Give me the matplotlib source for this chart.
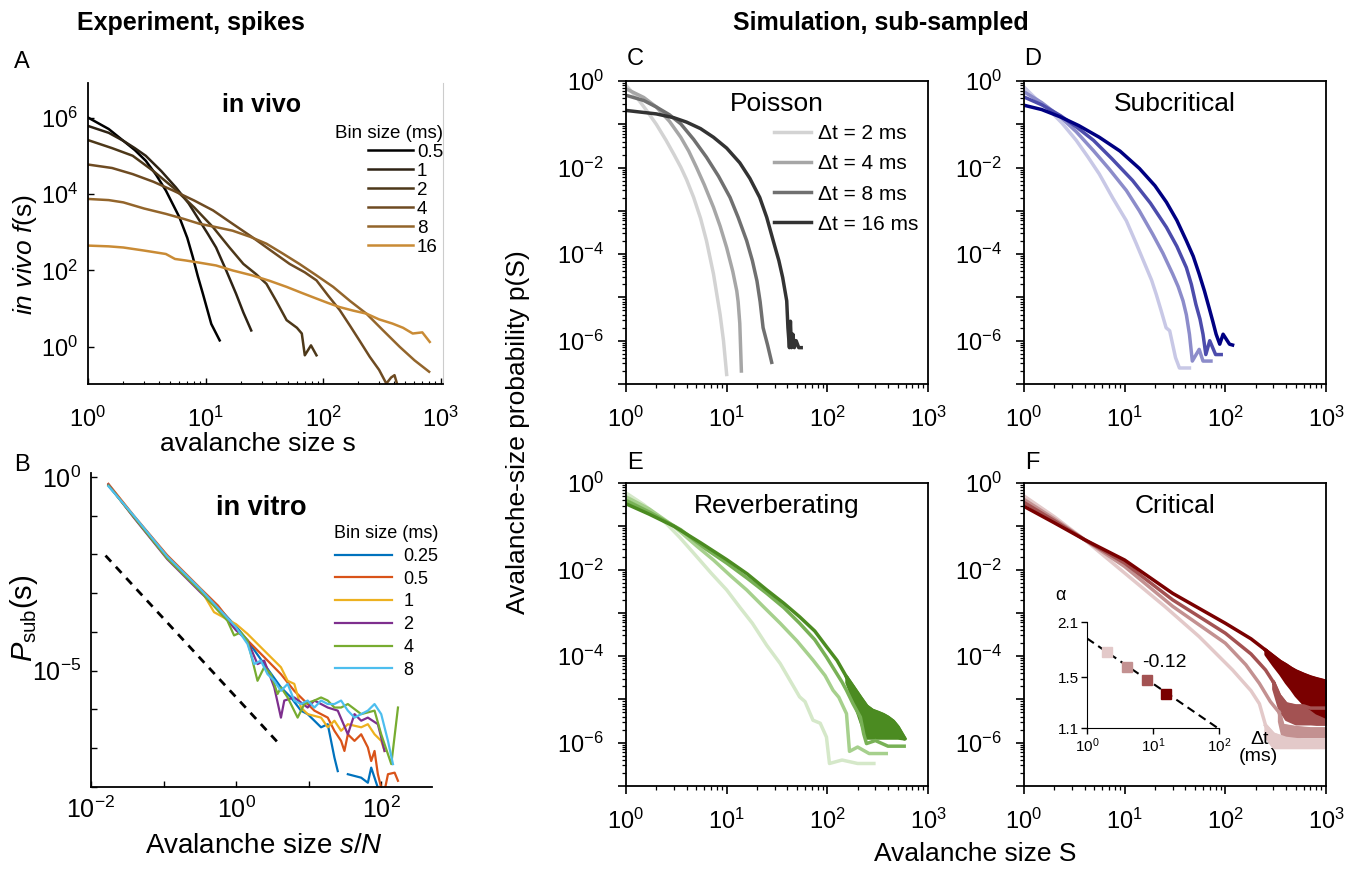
import numpy as np
import matplotlib
matplotlib.use("Agg")
import matplotlib.pyplot as plt
from matplotlib.ticker import LogLocator, NullLocator, NullFormatter

plt.rcParams['font.family'] = ['Liberation Sans', 'DejaVu Sans']
plt.rcParams['mathtext.fontset'] = 'custom'
plt.rcParams['mathtext.rm'] = 'Liberation Sans'
plt.rcParams['mathtext.it'] = 'Liberation Sans:italic'
plt.rcParams['mathtext.bf'] = 'Liberation Sans:bold'

# ---------------- panel A: in vivo, f(s) (log10 values) ----------------
a_bins = ['0.5', '1', '2', '4', '8', '16']
a_colors = ['#000000', '#2e2314', '#4d3819', '#6e4b22', '#93652b', '#c98b35']
a_s_05 = [1, 1.5, 2, 2.5, 3.1, 3.8, 4.6, 6, 7, 7.8, 8.6, 9.5, 11.2, 13.2]
a_logf_05 = [6.0, 5.7, 5.39, 5.15, 4.87, 4.5, 4.09, 3.39, 2.85, 2.35, 1.85, 1.39, 0.6, 0.17]
a_s_1 = [1, 1.5, 2, 2.5, 3.1, 4.2, 5.6, 7.2, 8.9, 10.5, 12.3, 15, 18.2, 21, 24.5]
a_logf_1 = [5.78, 5.6, 5.39, 5.2, 5.0, 4.6, 4.17, 3.75, 3.3, 2.95, 2.6, 2.0, 1.39, 0.9, 0.43]
a_s_2 = [1, 1.6, 2.4, 3.6, 5.3, 8, 11.6, 16, 21, 27, 33, 40, 49, 60, 66, 70, 79, 88]
a_logf_2 = [5.41, 5.2, 5.0, 4.6, 4.17, 3.65, 3.13, 2.6, 2.17, 1.9, 1.65, 1.2, 0.7, 0.5, 0.35,
            -0.22, 0.04, -0.22]
a_s_4 = [1, 1.6, 2.4, 3.6, 5.3, 8, 11.6, 17, 25, 36, 52, 70, 88, 110, 139, 170, 204, 250, 300,
         346, 380, 406, 430]
a_logf_4 = [4.77, 4.68, 4.52, 4.32, 4.09, 3.83, 3.57, 3.22, 2.87, 2.52, 2.17, 1.95, 1.74, 1.35,
            0.96, 0.55, 0.17, -0.26, -0.6, -0.96, -0.8, -0.74, -1.0]
a_s_8 = [1, 1.5, 2, 3, 4.6, 6.5, 8.9, 12, 17, 24, 33, 45, 63, 88, 122, 170, 234, 320, 450, 600, 800]
a_logf_8 = [3.87, 3.84, 3.78, 3.62, 3.48, 3.35, 3.22, 3.14, 3.04, 2.88, 2.7, 2.45, 2.17, 1.87,
            1.57, 1.2, 0.87, 0.45, 0.0, -0.35, -0.65]
a_s_16 = [1, 1.5, 2, 3, 4.6, 5.5, 6.8, 9, 12.3, 17, 25, 35, 49, 65, 82, 110, 139, 180, 234, 300,
          390, 480, 580, 700, 810]
a_logf_16 = [2.65, 2.63, 2.6, 2.52, 2.43, 2.3, 2.26, 2.2, 2.13, 2.0, 1.87, 1.73, 1.57, 1.42, 1.3,
             1.15, 1.04, 0.95, 0.87, 0.72, 0.61, 0.5, 0.35, 0.38, 0.13]

# ---------------- panel B: in vitro, log10(s/N) and log10 P_sub ----------------
b_bins = ['0.25', '0.5', '1', '2', '4', '8']
b_colors = ['#0072BD', '#D95319', '#EDB120', '#7E2F8E', '#77AC30', '#4DBEEE']
b_lx_025 = [-1.76, -1.41, -0.95, -0.49, -0.25, 0.0, 0.157, 0.387, 0.618, 0.756, 0.894, 0.986,
            1.079, 1.171, 1.263, 1.355, 1.401, np.nan, 1.540, 1.724, 1.816, 1.862, 1.954]
b_ly_025 = [-0.22, -1.02, -2.05, -2.92, -3.36, -3.86, -4.22, -4.83, -5.43, -5.69, -6.03, -6.12,
            -6.29, -6.46, -6.38, -7.24, -7.59, np.nan, -7.67, -7.76, -7.89, -7.50, -8.02]
b_lx_05 = [-1.76, -1.41, -0.95, -0.49, -0.25, 0.0, 0.387, 0.618, 0.802, 0.894, 1.079, 1.263, 1.355,
           1.447, 1.493, 1.540, 1.632, 1.724, 1.816, 1.862, 1.908, 1.954, 2.000, 2.046, 2.093, 2.185, 2.231]
b_ly_05 = [-0.18, -1.0, -2.02, -2.88, -3.32, -3.92, -4.65, -5.09, -5.52, -5.69, -6.03, -6.21, -6.55,
           -6.81, -7.07, -6.64, -6.81, -6.64, -6.98, -7.33, -7.07, -7.67, -8.02, -8.1, -7.67, -7.63, -7.84]
b_lx_1 = [-1.76, -1.41, -0.95, -0.49, -0.304, 0.0, 0.157, 0.387, 0.618, 0.710, 0.802, 0.894, 0.986,
          1.171, 1.263, 1.355, 1.447, 1.540, 1.724, 1.816, 1.908, 2.000, 2.046]
b_ly_1 = [-0.2, -1.04, -2.1, -2.9, -3.49, -3.80, -4.05, -4.48, -4.91, -5.26, -5.34, -5.95, -6.12,
          -6.21, -6.46, -6.29, -6.55, -6.38, -6.46, -6.38, -6.64, -6.81, -7.07]
b_lx_2 = [-1.76, -1.41, -0.95, -0.49, -0.25, 0.0, 0.157, 0.295, 0.387, 0.526, 0.618, 0.664, 0.802,
          0.986, 1.079, 1.263, 1.401, 1.540, 1.632, 1.724, 1.816, 1.954, 2.046]
b_ly_2 = [-0.2, -1.05, -2.12, -2.98, -3.40, -3.96, -4.22, -4.83, -4.74, -5.43, -6.21, -5.77, -5.69,
          -5.95, -5.77, -5.95, -6.03, -6.64, -6.12, -6.29, -6.21, -6.38, -7.07]
b_lx_4 = [-1.76, -1.41, -0.95, -0.49, -0.25, -0.12, -0.028, 0.065, 0.157, 0.295, 0.387, 0.479, 0.572,
          0.618, 0.710, 0.848, 0.940, 1.079, 1.171, 1.263, 1.355, 1.447, 1.540, 1.724, 1.908, 2.000,
          2.139, 2.231]
b_ly_4 = [-0.22, -1.03, -2.1, -2.95, -3.45, -3.71, -4.09, -4.01, -4.22, -5.26, -4.91, -5.09, -5.60,
          -5.43, -5.69, -6.21, -5.86, -5.77, -5.69, -5.77, -5.95, -5.95, -5.86, -6.12, -6.03, -6.64,
          -7.41, -5.95]
b_lx_8 = [-1.76, -1.41, -0.95, -0.49, -0.25, 0.0, 0.157, 0.249, 0.341, 0.433, 0.526, 0.618, 0.710,
          0.802, 0.894, 0.986, 1.079, 1.171, 1.263, 1.355, 1.447, 1.540, 1.632, 1.724, 1.816, 1.908,
          2.000, 2.093, 2.162]
b_ly_8 = [-0.24, -1.0, -2.05, -2.9, -3.38, -3.88, -4.31, -4.83, -4.74, -5.09, -5.26, -5.52, -5.34,
          -5.77, -5.86, -5.77, -5.95, -5.77, -5.86, -5.86, -5.77, -6.03, -6.21, -6.12, -6.03, -5.86,
          -6.12, -6.81, -7.41]
b_guide_lx = [-1.80, 0.594]
b_guide_ly = [-2.03, -6.89]

# ---------------- panels C-F: simulation, log10 p(S) ----------------
dt_labels = ['Δt = 2 ms', 'Δt = 4 ms', 'Δt = 8 ms', 'Δt = 16 ms']
c_colors = ['#d3d3d3', '#a6a6a6', '#707070', '#333333']
c_S = [[1, 1.3, 1.6, 2, 2.5, 3, 3.5, 4, 4.7, 5.5, 6.3, 7.4, 8.6, 9.3, 10],
       [1, 1.5, 2, 2.7, 3.5, 4.2, 5, 6, 7.4, 8.6, 10, 11.5, 12.6, 13, 13.5, 14],
       [1, 1.5, 2, 2.7, 3.5, 4.7, 6.3, 8.3, 10.8, 13, 15.8, 18, 20, 21.5, 23, 25.5, 28],
       [1, 2, 3, 4, 5.5, 7.4, 10, 13.5, 17, 21.3, 25, 29, 33, 36, 39.5, 40.6, 42, 43, 44, 45.5,
        47, 49, 52, 55]]
c_lp = [[-0.1, -0.4, -0.68, -1.0, -1.37, -1.7, -1.99, -2.28, -2.69, -3.17, -3.69, -4.46, -5.39,
         -6.0, -6.78],
        [-0.18, -0.38, -0.6, -0.93, -1.3, -1.62, -1.99, -2.4, -2.92, -3.35, -3.85, -4.4, -4.85,
         -5.1, -5.6, -6.7],
        [-0.33, -0.45, -0.6, -0.78, -0.99, -1.35, -1.76, -2.2, -2.69, -3.15, -3.69, -4.15, -4.62,
         -5.1, -5.7, -6.1, -6.5],
        [-0.68, -0.76, -0.85, -0.95, -1.1, -1.3, -1.55, -1.89, -2.25, -2.69, -3.15, -3.69, -4.15,
         -4.54, -5.08, -5.7, -6.16, -5.55, -6.16, -5.85, -6.16, -6.0, -6.16, -6.16]]

d_colors = ['#c8c8e6', '#8c8cca', '#4c4cac', '#000082']
d_S = [[1, 1.3, 1.8, 2.4, 3.3, 4.3, 5.6, 7.6, 10.4, 13, 16.4, 18.5, 20.6, 23, 25.8, 28, 32, 35, 44],
       [1, 1.5, 2.3, 3.3, 4.9, 7, 10.4, 14, 19, 24, 30, 34, 38, 41, 44, 47, 55, 60, 72],
       [1, 1.5, 2.3, 3.4, 4.9, 7.5, 12, 18, 26, 33, 41, 46, 51, 56, 60, 64, 70, 80, 91],
       [1, 1.5, 2.3, 3.5, 5.6, 9, 14, 20, 26, 33, 41, 48, 55, 62, 69, 75, 81, 88, 95, 110, 118]]
d_lp = [[-0.14, -0.4, -0.68, -0.98, -1.37, -1.75, -2.15, -2.7, -3.23, -3.75, -4.31, -4.6, -4.93,
         -5.3, -5.7, -5.77, -6.39, -6.63, -6.63],
        [-0.25, -0.5, -0.83, -1.17, -1.61, -2.03, -2.53, -3.0, -3.54, -3.98, -4.46, -4.75, -5.08,
         -5.4, -5.85, -6.47, -6.2, -6.47, -6.47],
        [-0.37, -0.55, -0.8, -1.08, -1.37, -1.8, -2.3, -2.82, -3.38, -3.82, -4.31, -4.7, -5.16,
         -5.5, -5.85, -6.32, -6.0, -6.32, -6.32],
        [-0.56, -0.66, -0.83, -1.03, -1.3, -1.62, -2.02, -2.42, -2.8, -3.22, -3.69, -4.05, -4.46,
         -4.85, -5.24, -5.55, -5.85, -6.08, -5.85, -6.08, -6.1]]

e_colors = ['#d5e8c9', '#a6d08d', '#78b156', '#4b8b21']
e_S = [[1, 1.5, 2.5, 3.4, 4.7, 7, 10, 13.5, 18, 25, 34, 53, 60, 72, 85, 98, 105, 140, 200, 290],
       [1, 1.7, 3, 5, 7.4, 11, 15.8, 23, 34, 50, 72, 95, 114, 130, 155, 166, 200, 260, 385],
       [1, 1.8, 3.5, 6, 10, 16, 25, 37, 53, 75, 98, 140, 155, 180, 213, 230, 245, 300, 400, 580],
       [1, 1.7, 3, 5.5, 10, 16, 25, 37, 53, 75, 98, 125, 155]]
e_lp = [[-0.23, -0.5, -0.93, -1.25, -1.62, -2.08, -2.47, -2.87, -3.24, -3.75, -4.17, -4.94, -5.05,
         -5.48, -5.55, -5.87, -6.48, -6.4, -6.48, -6.48],
        [-0.32, -0.6, -1.0, -1.45, -1.78, -2.15, -2.47, -2.85, -3.24, -3.65, -4.09, -4.45, -4.79,
         -4.95, -5.33, -6.2, -6.1, -6.25, -6.25],
        [-0.4, -0.7, -1.08, -1.5, -1.85, -2.2, -2.55, -2.88, -3.24, -3.62, -4.02, -4.6, -4.79,
         -5.1, -5.41, -5.8, -6.02, -5.95, -6.08, -6.08],
        [-0.48, -0.72, -1.0, -1.38, -1.77, -2.1, -2.47, -2.78, -3.09, -3.42, -3.78, -4.1, -4.48]]
# noisy tail of the darkest E curve: upper / lower edge
e_band_S = [155, 180, 213, 245, 280, 320, 360, 400, 450, 500, 585]
e_band_hi = [-4.48, -4.7, -4.95, -5.15, -5.25, -5.3, -5.35, -5.41, -5.5, -5.63, -5.9]
e_band_lo = [-4.6, -5.0, -5.5, -5.88, -5.88, -5.88, -5.88, -5.88, -5.88, -5.88, -5.9]

f_colors = ['#e3c9c9', '#c39191', '#a35252', '#7a0000']
f_S = [[1, 2, 4, 10, 25, 55, 118, 180, 218, 251],
       [1, 2, 4, 10, 30, 100, 160, 218, 280, 342],
       [1, 2, 4, 10, 30, 100, 180, 251, 300],
       [1, 2, 4, 10, 30, 100, 180, 251]]
f_lp = [[-0.3, -0.78, -1.31, -2.08, -2.85, -3.55, -4.32, -4.8, -5.1, -5.6],
        [-0.38, -0.83, -1.31, -1.93, -2.85, -3.7, -4.2, -4.63, -5.05, -5.3],
        [-0.45, -0.87, -1.31, -1.85, -2.7, -3.47, -3.95, -4.32, -4.6],
        [-0.54, -0.92, -1.31, -1.78, -2.55, -3.24, -3.6, -3.86]]
# noisy tails of the F curves: upper / lower edge
f_band_S = [[251, 300, 400, 600, 1000],
            [342, 370, 500, 700, 1000],
            [300, 342, 400, 500, 600, 700, 800, 1000],
            [251, 300, 350, 400, 450, 500, 600, 700, 800, 900, 1000]]
f_band_hi = [[-5.6, -5.8, -5.9, -5.95, -5.95],
             [-5.3, -5.6, -5.65, -5.68, -5.68],
             [-4.6, -4.9, -5.1, -5.15, -5.15, -5.2, -5.2, -5.2],
             [-3.86, -4.0, -4.12, -4.2, -4.28, -4.34, -4.42, -4.48, -4.52, -4.55, -4.58]]
f_band_lo = [[-5.85, -6.1, -6.1, -6.1, -6.1],
             [-5.5, -5.85, -5.85, -5.85, -5.85],
             [-4.75, -5.2, -5.45, -5.55, -5.55, -5.55, -5.56, -5.56],
             [-3.95, -4.2, -4.4, -4.6, -4.75, -4.9, -5.1, -5.2, -5.3, -5.35, -5.4]]

# inset of F: exponent alpha vs bin size
inset_dt = [2, 4, 8, 16]
inset_alpha = [1.75, 1.60, 1.47, 1.355]
inset_fit_dt = [1, 100]
inset_fit_alpha = [1.90, 1.094]

W, H = 1362, 872
fig = plt.figure(figsize=(W / 100, H / 100), dpi=100)


def rect(l, t, r, b):
    return [l / W, 1 - b / H, (r - l) / W, (b - t) / H]


def ftext(x, y, s, **kw):
    fig.text(x / W, 1 - y / H, s, ha='center', va='center', **kw)


def dec_label(k):
    return '$10^{%d}$' % k


# ---------- A ----------
axA = fig.add_axes(rect(88, 83, 443, 384))
a_s = [a_s_05, a_s_1, a_s_2, a_s_4, a_s_8, a_s_16]
a_lf = [a_logf_05, a_logf_1, a_logf_2, a_logf_4, a_logf_8, a_logf_16]
for s, lf, c, lab in zip(a_s, a_lf, a_colors, a_bins):
    axA.plot(s, 10 ** np.array(lf), color=c, lw=1.8, label=lab)
axA.set_xscale('log')
axA.set_yscale('log')
axA.set_xlim(1, 1050)
axA.set_ylim(0.107, 8e6)
axA.set_xticks([1, 10, 100, 1000])
axA.set_xticklabels([dec_label(k) for k in range(4)])
axA.set_yticks([1, 1e2, 1e4, 1e6])
axA.set_yticklabels([dec_label(k) for k in (0, 2, 4, 6)])
axA.yaxis.set_minor_locator(NullLocator())
axA.xaxis.set_minor_locator(LogLocator(base=10, subs=np.arange(2, 10), numticks=20))
axA.xaxis.set_minor_formatter(NullFormatter())
axA.tick_params(which='major', direction='in', length=4, width=1, labelsize=17)
axA.tick_params(axis='x', pad=16)
axA.tick_params(axis='y', pad=7)
axA.tick_params(which='minor', direction='in', length=2.5, width=0.8)
axA.spines['top'].set_visible(False)
axA.spines['right'].set_color('#cccccc')
axA.spines['left'].set_linewidth(1.3)
axA.spines['bottom'].set_linewidth(1.3)
axA.text(0.49, 0.927, 'in vivo', transform=axA.transAxes, ha='center', va='center',
         fontsize=18, fontweight='bold')
axA.legend(loc='upper right', bbox_to_anchor=(1.0, 0.862), frameon=False, fontsize=13.5,
           title='Bin size (ms)', title_fontsize=13.5, alignment='right', handlelength=2.4,
           handletextpad=0.2, labelspacing=0.1, borderpad=0, borderaxespad=0)
ftext(25, 255, r'$\mathit{in\ vivo\ f}$(s)', fontsize=19, rotation=90)
ftext(258, 444, 'avalanche size s', fontsize=19)

# ---------- B ----------
axB = fig.add_axes(rect(91, 473, 432, 787))
b_lx = [b_lx_025, b_lx_05, b_lx_1, b_lx_2, b_lx_4, b_lx_8]
b_ly = [b_ly_025, b_ly_05, b_ly_1, b_ly_2, b_ly_4, b_ly_8]
for lx, ly, c, lab in zip(b_lx, b_ly, b_colors, b_bins):
    axB.plot(10 ** np.array(lx), 10 ** np.array(ly), color=c, lw=1.6, label=lab)
axB.plot(10 ** np.array(b_guide_lx), 10 ** np.array(b_guide_ly), color='black', lw=2,
         ls=(0, (3, 2.5)))
axB.set_xscale('log')
axB.set_yscale('log')
axB.set_xlim(1e-2, 10 ** 2.7)
axB.set_ylim(1e-8, 10 ** 0.1)
axB.set_xticks([10.0 ** k for k in range(-2, 3)])
axB.set_xticklabels([dec_label(k) if k % 2 == 0 else '' for k in range(-2, 3)])
axB.set_yticks([10.0 ** k for k in range(-8, 1)])
axB.set_yticklabels([dec_label(k) if k in (0, -5) else '' for k in range(-8, 1)])
axB.xaxis.set_minor_locator(NullLocator())
axB.yaxis.set_minor_locator(NullLocator())
axB.tick_params(which='major', direction='in', length=4, width=1, labelsize=18)
axB.tick_params(axis='x', pad=7)
axB.tick_params(axis='y', pad=7)
axB.spines['top'].set_visible(False)
axB.spines['right'].set_visible(False)
axB.spines['left'].set_linewidth(1.3)
axB.spines['bottom'].set_linewidth(1.3)
axB.text(0.50, 0.889, 'in vitro', transform=axB.transAxes, ha='center', va='center',
         fontsize=19.5, fontweight='bold')
axB.legend(loc='upper right', bbox_to_anchor=(1.018, 0.834), frameon=False, fontsize=13,
           title='Bin size (ms)', title_fontsize=13, alignment='right', handlelength=3.15,
           handletextpad=0.6, labelspacing=0.32, borderpad=0, borderaxespad=0)
ftext(24, 618, r'$\mathit{P}_{\mathrm{sub}}\mathrm{(s)}$', fontsize=21, rotation=90)
ftext(264, 846, r'Avalanche size $\mathit{s/N}$', fontsize=20)


# ---------- C-F ----------
def sim_axes(l, t, title):
    ax = fig.add_axes(rect(l, t, l + 302, t + 303))
    ax.set_xscale('log')
    ax.set_yscale('log')
    ax.set_xlim(1, 1e3)
    ax.set_ylim(1e-7, 1)
    ax.set_xticks([1, 10, 100, 1000])
    ax.set_xticklabels([dec_label(k) for k in range(4)])
    ax.set_yticks([10.0 ** k for k in range(-7, 1)])
    ax.set_yticklabels([dec_label(k) if k % 2 == 0 else '' for k in range(-7, 1)])
    ax.xaxis.set_minor_locator(LogLocator(base=10, subs=np.arange(2, 10), numticks=20))
    ax.yaxis.set_minor_locator(LogLocator(base=10, subs=np.arange(2, 10), numticks=20))
    ax.xaxis.set_minor_formatter(NullFormatter())
    ax.yaxis.set_minor_formatter(NullFormatter())
    ax.tick_params(which='major', direction='out', length=6, width=1.2, labelsize=17)
    ax.tick_params(axis='x', pad=10)
    ax.tick_params(axis='y', pad=10)
    ax.tick_params(which='minor', direction='out', length=3, width=0.9)
    for sp in ax.spines.values():
        sp.set_linewidth(1.3)
    ax.text(0.5, 0.925, title, transform=ax.transAxes, ha='center', va='center', fontsize=19)
    return ax


axC = sim_axes(626, 81, 'Poisson')
for S, lp, c, lab in zip(c_S, c_lp, c_colors, dt_labels):
    axC.plot(S, 10 ** np.array(lp), color=c, lw=2.5, label=lab)
axC.legend(loc='upper left', bbox_to_anchor=(0.49, 0.858), frameon=False, fontsize=15,
           handlelength=1.8, handletextpad=0.3, labelspacing=0.54, borderpad=0,
           borderaxespad=0)

axD = sim_axes(1024, 81, 'Subcritical')
for S, lp, c in zip(d_S, d_lp, d_colors):
    axD.plot(S, 10 ** np.array(lp), color=c, lw=2.5)

axE = sim_axes(626, 483, 'Reverberating')
for S, lp, c in zip(e_S, e_lp, e_colors):
    axE.plot(S, 10 ** np.array(lp), color=c, lw=2.5)
axE.fill_between(e_band_S, 10 ** np.array(e_band_hi), 10 ** np.array(e_band_lo),
                 color=e_colors[3], lw=2.5)
axE.plot(e_band_S, 10 ** np.array(e_band_hi), color=e_colors[3], lw=2.5)

axF = sim_axes(1024, 483, 'Critical')
for S, lp, bS, hi, lo, c in zip(f_S, f_lp, f_band_S, f_band_hi, f_band_lo, f_colors):
    axF.plot(S, 10 ** np.array(lp), color=c, lw=2.5)
    axF.fill_between(bS, 10 ** np.array(hi), 10 ** np.array(lo), color=c, lw=2.5)
    axF.plot(bS, 10 ** np.array(hi), color=c, lw=2.5)

# inset
axI = fig.add_axes(rect(1087, 622, 1219, 728))
axI.plot(inset_fit_dt, inset_fit_alpha, color='black', lw=1.5, ls=(0, (4, 2.5)))
for d, a, c in zip(inset_dt, inset_alpha, f_colors):
    axI.plot(d, a, marker='s', ms=7, color=c, ls='none')
axI.set_xscale('log')
axI.set_yscale('log')
axI.set_xlim(1, 100)
axI.set_ylim(1.1, 2.1)
axI.set_xticks([1, 10, 100])
axI.set_xticklabels([dec_label(k) for k in range(3)])
axI.set_yticks([1.1, 1.5, 2.1])
axI.set_yticklabels(['1.1', '1.5', '2.1'])
axI.xaxis.set_minor_locator(NullLocator())
axI.yaxis.set_minor_locator(NullLocator())
axI.tick_params(which='major', direction='out', length=4, width=1, labelsize=11, pad=2)
axI.spines['top'].set_visible(False)
axI.spines['right'].set_visible(False)
axI.patch.set_alpha(0)
axI.text(0.42, 0.62, '-0.12', transform=axI.transAxes, ha='left', va='center', fontsize=14)
axI.text(-0.2, 1.25, 'α', transform=axI.transAxes, ha='center', va='center', fontsize=13)
axI.text(1.31, -0.11, 'Δt', transform=axI.transAxes, ha='center', va='center', fontsize=14)
axI.text(1.30, -0.27, '(ms)', transform=axI.transAxes, ha='center', va='center', fontsize=14)

# shared labels, headings, panel letters
ftext(518, 432, 'Avalanche-size probability p(S)', fontsize=19, rotation=90)
ftext(975, 854, 'Avalanche size S', fontsize=19)
ftext(191, 23, 'Experiment, spikes', fontsize=18, fontweight='bold')
ftext(881, 23, 'Simulation, sub-sampled', fontsize=18, fontweight='bold')
for letter, x, y in [('A', 22, 62), ('B', 22, 465), ('C', 635, 59), ('D', 1033, 59),
                     ('E', 635, 463), ('F', 1032, 463)]:
    ftext(x, y, letter, fontsize=17)

fig.savefig('out.png', dpi=100)
